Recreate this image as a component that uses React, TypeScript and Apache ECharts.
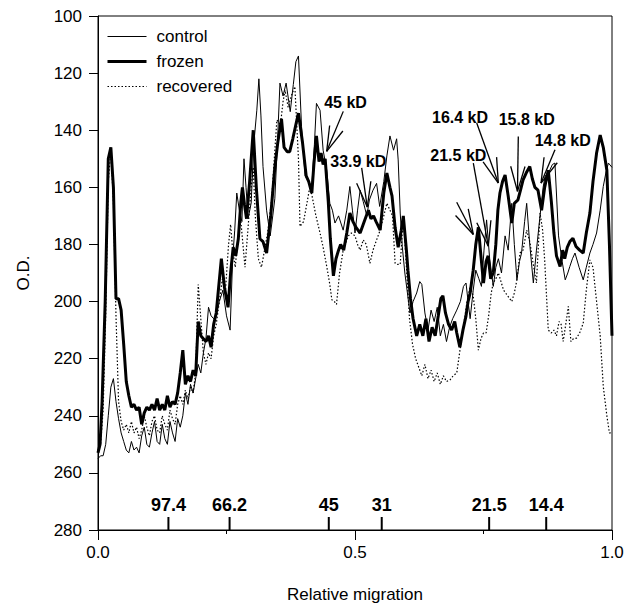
import React, { useEffect, useRef } from 'react';
import * as echarts from 'echarts';

const FONT = '"Liberation Sans", Arial, Helvetica, sans-serif';

const controlData: number[][] = [
  [0.000, 255], [0.005, 254], [0.010, 254], [0.015, 250], [0.020, 240], [0.025, 230], [0.030, 227],
  [0.035, 235], [0.040, 241], [0.045, 246], [0.050, 249], [0.055, 252], [0.060, 253], [0.065, 249],
  [0.070, 252], [0.075, 251], [0.080, 253], [0.085, 247], [0.090, 244], [0.095, 250], [0.100, 251],
  [0.105, 246], [0.110, 242], [0.115, 249], [0.120, 250], [0.125, 243], [0.130, 248], [0.135, 250],
  [0.140, 242], [0.145, 246], [0.150, 249], [0.155, 241], [0.160, 244], [0.165, 240], [0.170, 232],
  [0.175, 236], [0.180, 229], [0.185, 232], [0.190, 227], [0.195, 222], [0.200, 225], [0.205, 218],
  [0.210, 213], [0.215, 202], [0.220, 205], [0.225, 206], [0.230, 205], [0.236, 200], [0.243, 196],
  [0.250, 205], [0.257, 210], [0.262, 185], [0.266, 175], [0.270, 162], [0.275, 168], [0.280, 172],
  [0.284, 150], [0.288, 160], [0.292, 171], [0.298, 165.5], [0.303, 145], [0.309, 133], [0.313, 122],
  [0.317, 135], [0.321, 152.7], [0.328, 168], [0.335, 177], [0.340, 170], [0.344, 164], [0.349, 145],
  [0.354, 123.5], [0.360, 128], [0.366, 123.5], [0.374, 133.5], [0.380, 124], [0.385, 116], [0.390, 114],
  [0.396, 138.7], [0.403, 156], [0.410, 158], [0.416, 159.7], [0.421, 145], [0.425, 130.6], [0.432, 133],
  [0.438, 147], [0.445, 154], [0.451, 165.6], [0.456, 168], [0.461, 172.5], [0.468, 170], [0.477, 175],
  [0.484, 168], [0.490, 159.7], [0.495, 168], [0.500, 176], [0.505, 168], [0.510, 161], [0.516, 165],
  [0.523, 170], [0.528, 164.4], [0.535, 161], [0.542, 158.6], [0.548, 166.7], [0.556, 158], [0.562, 149],
  [0.568, 142], [0.575, 147], [0.581, 143], [0.584, 150.4], [0.588, 169], [0.592, 180.8], [0.597, 190],
  [0.602, 197], [0.607, 204], [0.613, 200], [0.620, 197], [0.626, 193], [0.630, 194], [0.636, 204],
  [0.642, 210], [0.648, 203], [0.654, 207], [0.660, 202], [0.666, 212], [0.672, 208], [0.678, 214],
  [0.684, 209], [0.690, 206], [0.698, 203], [0.705, 200], [0.711, 194.7], [0.716, 193.5], [0.720, 200],
  [0.724, 206], [0.730, 196], [0.735, 189], [0.741, 192], [0.746, 194.7], [0.751, 182], [0.756, 171.4],
  [0.762, 185], [0.769, 194.7], [0.774, 188], [0.779, 185], [0.785, 190], [0.792, 177], [0.798, 182],
  [0.805, 165.6], [0.810, 180], [0.815, 192.4], [0.820, 186], [0.824, 183], [0.830, 172], [0.834, 165.6],
  [0.840, 180], [0.847, 193.5], [0.853, 182], [0.860, 170], [0.866, 160], [0.870, 156], [0.875, 155],
  [0.879, 154], [0.884, 152], [0.889, 151.5], [0.896, 177], [0.903, 186], [0.909, 192.4], [0.914, 190],
  [0.918, 187.7], [0.923, 185], [0.928, 183], [0.936, 188], [0.944, 192.4], [0.950, 188], [0.957, 183],
  [0.963, 180], [0.970, 176], [0.977, 168], [0.983, 159.7], [0.988, 155], [0.993, 151.5], [1.000, 153],
];

const frozenData: number[][] = [
  [0.000, 253], [0.004, 250], [0.008, 235], [0.014, 200], [0.020, 150], [0.025, 146], [0.030, 160],
  [0.035, 199], [0.040, 199], [0.045, 203], [0.050, 215], [0.055, 228], [0.060, 233], [0.065, 237],
  [0.070, 236], [0.075, 238], [0.080, 237], [0.085, 243], [0.090, 239], [0.095, 237], [0.100, 238],
  [0.105, 236], [0.110, 238], [0.115, 234], [0.120, 238], [0.125, 236], [0.130, 238], [0.135, 233],
  [0.140, 237], [0.145, 235], [0.150, 236], [0.155, 232], [0.160, 225], [0.165, 217], [0.170, 229],
  [0.175, 226], [0.180, 228], [0.185, 224], [0.190, 226], [0.195, 207], [0.200, 212], [0.205, 213],
  [0.210, 214], [0.215, 212], [0.220, 216], [0.225, 208], [0.230, 204], [0.240, 185], [0.246, 195],
  [0.253, 202], [0.258, 190], [0.263, 181], [0.268, 184], [0.273, 178], [0.278, 165], [0.281, 160],
  [0.285, 166], [0.289, 171], [0.295, 158], [0.302, 140], [0.308, 160], [0.315, 178], [0.321, 179],
  [0.328, 183], [0.336, 170], [0.344, 153], [0.350, 144], [0.357, 136], [0.362, 146], [0.368, 147.5],
  [0.373, 147.5], [0.379, 143], [0.385, 138], [0.390, 134], [0.398, 144.5], [0.405, 156], [0.410, 158],
  [0.416, 162], [0.420, 152], [0.425, 142], [0.430, 151], [0.434, 148], [0.438, 152], [0.442, 150],
  [0.448, 165], [0.452, 178], [0.458, 191], [0.463, 185], [0.468, 182], [0.472, 180], [0.478, 182],
  [0.484, 176], [0.490, 169], [0.496, 172], [0.502, 174], [0.510, 176], [0.518, 172], [0.526, 168],
  [0.531, 171], [0.536, 170], [0.541, 172], [0.549, 175], [0.556, 162], [0.562, 155], [0.568, 160],
  [0.572, 163], [0.578, 174], [0.584, 181], [0.590, 175], [0.594, 170], [0.600, 182], [0.603, 189],
  [0.608, 199], [0.613, 206], [0.620, 212], [0.626, 208], [0.632, 212], [0.638, 206], [0.644, 214],
  [0.650, 209], [0.656, 212], [0.662, 205], [0.667, 199], [0.671, 198], [0.676, 204], [0.682, 208],
  [0.688, 210], [0.694, 207], [0.698, 211], [0.704, 216], [0.710, 210], [0.716, 205], [0.720, 200],
  [0.724, 197], [0.730, 189], [0.735, 180], [0.740, 174], [0.745, 184], [0.750, 193.5], [0.755, 186],
  [0.759, 184], [0.764, 192], [0.769, 190], [0.774, 180], [0.778, 168], [0.782, 162], [0.787, 158],
  [0.792, 155.7], [0.798, 163], [0.805, 172.5], [0.810, 165.6], [0.817, 164.4], [0.822, 161], [0.827, 157.4],
  [0.833, 155], [0.840, 152.7], [0.845, 157], [0.850, 160], [0.856, 161], [0.863, 168], [0.869, 160],
  [0.876, 154], [0.882, 165], [0.887, 176], [0.892, 184], [0.899, 187.7], [0.904, 182], [0.908, 185],
  [0.913, 181], [0.918, 179], [0.924, 177.8], [0.930, 180.7], [0.937, 182], [0.944, 183], [0.950, 176],
  [0.957, 169], [0.963, 158], [0.970, 148], [0.977, 141.7], [0.983, 146], [0.990, 154], [0.995, 180],
  [1.000, 212],
];

const recoveredData: number[][] = [
  [0.000, 252], [0.005, 250], [0.010, 238], [0.015, 205], [0.020, 158], [0.025, 147], [0.030, 165],
  [0.035, 205], [0.040, 235], [0.045, 242], [0.050, 245], [0.055, 243], [0.060, 246], [0.065, 242],
  [0.070, 246], [0.075, 244], [0.080, 248], [0.085, 245], [0.090, 240], [0.095, 244], [0.100, 247],
  [0.105, 242], [0.110, 240], [0.115, 245], [0.120, 246], [0.125, 240], [0.130, 243], [0.135, 245],
  [0.140, 238], [0.145, 241], [0.150, 243], [0.155, 236], [0.160, 233], [0.165, 236], [0.170, 231],
  [0.175, 234], [0.180, 230], [0.185, 232], [0.190, 225], [0.195, 194], [0.200, 206], [0.205, 218],
  [0.210, 222], [0.215, 218], [0.220, 220], [0.225, 212], [0.230, 208], [0.236, 200], [0.242, 192],
  [0.248, 196], [0.254, 180], [0.258, 173], [0.262, 182], [0.267, 188], [0.272, 178], [0.278, 172],
  [0.282, 180], [0.286, 188], [0.292, 174], [0.298, 160], [0.302, 153], [0.306, 170], [0.312, 185],
  [0.318, 188], [0.324, 182], [0.330, 176], [0.338, 164], [0.343, 150], [0.348, 136.4], [0.355, 138],
  [0.360, 130], [0.364, 126], [0.370, 132], [0.376, 128], [0.383, 124.7], [0.390, 150], [0.393, 173.7],
  [0.400, 172], [0.406, 166], [0.412, 160], [0.416, 162.6], [0.424, 170], [0.432, 176], [0.438, 181],
  [0.445, 187.7], [0.451, 194], [0.455, 199.4], [0.460, 200], [0.464, 201], [0.470, 190], [0.477, 182],
  [0.487, 177], [0.493, 176], [0.500, 177], [0.505, 180], [0.510, 182], [0.516, 178.4], [0.522, 180],
  [0.529, 186.6], [0.535, 182], [0.542, 178.4], [0.549, 175], [0.556, 170], [0.562, 165.6], [0.568, 168],
  [0.573, 170], [0.578, 186.6], [0.583, 187], [0.588, 187], [0.594, 170], [0.600, 187.7], [0.606, 206],
  [0.612, 215], [0.618, 220], [0.624, 223], [0.630, 226], [0.636, 222], [0.642, 227], [0.648, 224],
  [0.654, 228], [0.660, 225], [0.666, 229], [0.672, 226], [0.678, 228], [0.685, 227.4], [0.691, 226],
  [0.698, 225], [0.705, 216], [0.711, 208.7], [0.718, 200], [0.724, 194.7], [0.730, 198], [0.735, 206],
  [0.740, 217], [0.745, 213], [0.750, 211], [0.755, 211], [0.760, 205], [0.765, 197], [0.769, 193.5],
  [0.774, 192], [0.779, 190], [0.784, 193], [0.789, 196], [0.797, 198], [0.805, 200], [0.810, 197],
  [0.815, 192.4], [0.821, 183], [0.827, 182], [0.834, 175], [0.840, 179], [0.846, 186], [0.853, 193.5],
  [0.860, 169], [0.865, 175], [0.869, 185.4], [0.876, 210], [0.882, 211], [0.887, 210], [0.892, 212],
  [0.897, 207], [0.901, 208], [0.905, 214], [0.910, 208], [0.915, 201.7], [0.920, 214], [0.925, 213],
  [0.931, 212.8], [0.937, 211], [0.944, 207.6], [0.950, 196], [0.957, 185.4], [0.963, 188], [0.970, 200],
  [0.977, 212], [0.983, 229.7], [0.990, 240], [0.995, 246], [1.000, 246],
];

// Molecular weight markers along the bottom of the plot
const mwLabels = ['97.4', '66.2', '45', '31', '21.5', '14.4'];
const mwPositions = [0.137, 0.256, 0.449, 0.552, 0.761, 0.872];

// Arrow annotations (x, O.D.)
const kdLabels = ['45 kD', '33.9 kD', '16.4 kD', '15.8 kD', '14.8 kD', '21.5 kD', ''];
const kdLabelPos = [[0.4815, 130.2], [0.5064, 150.9], [0.7043, 135.4], [0.834, 136.4], [0.9041, 143.7], [0.701, 148.9], [0.6979, 165.2]];
const kdArrowTail = [[0.4772, 133.4], [0.513, 153.2], [0.7368, 137.5], [0.8177, 142.2], [0.8891, 146.8], [0.7302, 151.5], [0.6979, 165.2]];
const kdArrowTip = [[0.4449, 147.4], [0.5239, 166.9], [0.7788, 158.5], [0.8161, 161.4], [0.8619, 158.5], [0.7593, 180.6], [0.7302, 176.5]];

const yTicks = { min: 100, max: 280, interval: 20 };

export default function App() {
  const ref = useRef<HTMLDivElement>(null);

  useEffect(() => {
    if (!ref.current) return;
    const chart = echarts.init(ref.current, null, { renderer: 'svg' });

    const arrowRender = (params: any, api: any) => {
      const i = params.dataIndex;
      const tail = api.coord(kdArrowTail[i]);
      const tip = api.coord(kdArrowTip[i]);
      const ang = Math.atan2(tail[1] - tip[1], tail[0] - tip[0]);
      const L = 26;
      const a = (16 * Math.PI) / 180;
      const b1 = [tip[0] + L * Math.cos(ang - a), tip[1] + L * Math.sin(ang - a)];
      const b2 = [tip[0] + L * Math.cos(ang + a), tip[1] + L * Math.sin(ang + a)];
      const ls = { stroke: '#000', lineWidth: 1.3 };
      const children: any[] = [
        { type: 'line', shape: { x1: tail[0], y1: tail[1], x2: tip[0], y2: tip[1] }, style: ls },
        { type: 'line', shape: { x1: tip[0], y1: tip[1], x2: b1[0], y2: b1[1] }, style: ls },
        { type: 'line', shape: { x1: tip[0], y1: tip[1], x2: b2[0], y2: b2[1] }, style: ls },
      ];
      if (kdLabels[i]) {
        const lp = api.coord(kdLabelPos[i]);
        children.push({
          type: 'text',
          x: lp[0],
          y: lp[1],
          style: {
            text: kdLabels[i],
            font: `bold 16px ${FONT}`,
            fill: '#000',
            align: 'center',
            verticalAlign: 'middle',
          },
        });
      }
      return { type: 'group', children };
    };

    const mwRender = (params: any, api: any) => {
      const i = params.dataIndex;
      const p = api.coord([mwPositions[i], yTicks.max]);
      return {
        type: 'group',
        children: [
          { type: 'line', shape: { x1: p[0], y1: p[1], x2: p[0], y2: p[1] - 13 }, style: { stroke: '#000', lineWidth: 2 } },
          {
            type: 'text',
            x: p[0],
            y: p[1] - 25,
            style: {
              text: mwLabels[i],
              font: `bold 18px ${FONT}`,
              fill: '#000',
              align: 'center',
              verticalAlign: 'middle',
            },
          },
        ],
      };
    };

    chart.setOption({
      animation: false,
      backgroundColor: '#fff',
      textStyle: { fontFamily: FONT, color: '#000' },
      grid: { left: 98, right: 19, top: 16, bottom: 83, show: true, borderColor: '#000', borderWidth: 1, containLabel: false },
      legend: {
        data: [
          { name: 'control', itemStyle: { opacity: 0 }, lineStyle: { width: 1, color: '#000', type: 'solid' } },
          { name: 'frozen', itemStyle: { opacity: 0 }, lineStyle: { width: 3, color: '#000', type: 'solid' } },
          { name: 'recovered', itemStyle: { opacity: 0 }, lineStyle: { width: 1.2, color: '#000', type: [1.5, 2] } },
        ],
        orient: 'vertical',
        left: 106,
        top: 28,
        padding: 0,
        itemWidth: 39,
        itemHeight: 14,
        itemGap: 8,
        selectedMode: false,
        itemStyle: { opacity: 0 },
        textStyle: { fontFamily: FONT, fontSize: 17, color: '#000', lineHeight: 17, padding: [0, 0, 0, 5] },
      },
      xAxis: {
        type: 'value',
        min: 0,
        max: 1,
        interval: 0.5,
        name: 'Relative migration',
        nameLocation: 'middle',
        nameGap: 56,
        nameTextStyle: { fontFamily: FONT, fontSize: 17, color: '#000' },
        axisLine: { show: true, lineStyle: { color: '#000', width: 1 } },
        axisTick: { show: true, inside: false, length: 10, lineStyle: { color: '#000' } },
        minorTick: { show: true, splitNumber: 2, length: 4, lineStyle: { color: '#000' } },
        axisLabel: { fontFamily: FONT, fontSize: 17, color: '#000', margin: 14, formatter: (v: number) => v.toFixed(1) },
        splitLine: { show: false },
      },
      yAxis: {
        type: 'value',
        inverse: true,
        min: yTicks.min,
        max: yTicks.max,
        interval: yTicks.interval,
        name: 'O.D.',
        nameLocation: 'middle',
        nameGap: 66,
        nameTextStyle: { fontFamily: FONT, fontSize: 17, color: '#000' },
        axisLine: { show: true, lineStyle: { color: '#000', width: 1 } },
        axisTick: { show: true, inside: false, length: 9, lineStyle: { color: '#000' } },
        axisLabel: { fontFamily: FONT, fontSize: 17, color: '#000', margin: 16 },
        splitLine: { show: false },
      },
      series: [
        {
          name: 'control',
          type: 'line',
          data: controlData,
          symbol: 'none',
          lineStyle: { color: '#000', width: 1 },
          itemStyle: { color: '#000' },
          z: 2,
        },
        {
          name: 'frozen',
          type: 'line',
          data: frozenData,
          symbol: 'none',
          lineStyle: { color: '#000', width: 3 },
          itemStyle: { color: '#000' },
          z: 4,
        },
        {
          name: 'recovered',
          type: 'line',
          data: recoveredData,
          symbol: 'none',
          lineStyle: { color: '#000', width: 1.2, type: [1.5, 2] },
          itemStyle: { color: '#000' },
          z: 3,
        },
        {
          name: 'arrows',
          type: 'custom',
          renderItem: arrowRender,
          data: kdArrowTip,
          clip: false,
          silent: true,
          z: 5,
        },
        {
          name: 'markers',
          type: 'custom',
          renderItem: mwRender,
          data: mwPositions.map((x) => [x, yTicks.max]),
          clip: false,
          silent: true,
          z: 5,
        },
      ],
    });

    return () => chart.dispose();
  }, []);

  return (
    <div
      ref={ref}
      style={{ position: 'fixed', left: 0, top: 0, width: 631, height: 613, background: '#fff' }}
    />
  );
}
